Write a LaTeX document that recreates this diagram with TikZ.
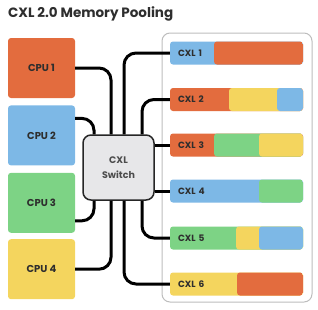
\documentclass[tikz,border=0pt]{standalone}
\usepackage{fontspec}
\setmainfont{Poppins}
\usepackage{xcolor}
\usetikzlibrary{calc}
\usetikzlibrary{positioning}

\definecolor{memorange}{HTML}{E36C3E}
\definecolor{memblue}{HTML}{7DB8E6}
\definecolor{memgreen}{HTML}{7DD385}
\definecolor{memyellow}{HTML}{F4D55E}
\definecolor{switchgray}{HTML}{E7E7E9}
\definecolor{poolgray}{HTML}{BDBDBD}
\definecolor{labelgray}{HTML}{2E2E2E}

% colored part of a memory bar, from an offset to the right end
\newcommand{\cxlseg}[2]{\fill[#2] ([xshift=#1]path picture bounding box.south west) rectangle (path picture bounding box.north east);}

\tikzset{
  cpubox/.style={rounded corners=3pt, minimum width=67pt, minimum height=60pt, inner sep=0pt,
    font=\bfseries\fontsize{10}{12}\selectfont, text=labelgray},
  cxlbar/.style={rounded corners=3pt, minimum width=133pt, minimum height=23pt, inner ysep=0pt,
    inner xsep=8pt, text width=117pt, align=left, font=\bfseries\fontsize{9}{10}\selectfont, text=labelgray},
  switchbox/.style={draw=black!85, line width=1.5pt, fill=switchgray, rounded corners=8pt,
    minimum width=71pt, minimum height=65pt, align=center,
    font=\bfseries\fontsize{9.5}{15}\selectfont, text=black!70},
  wire/.style={line width=3pt, rounded corners=12pt}
}

\begin{document}
\begin{tikzpicture}[x=1pt, y=-1pt]
\useasboundingbox (0,0) rectangle (318,309);

\node[anchor=base west, inner sep=0pt, font=\bfseries\fontsize{13.5}{16}\selectfont, text=labelgray]
  (title) at (8,17) {CXL 2.0 Memory Pooling};

% memory pool
\draw[poolgray, fill=white, line width=1pt, rounded corners=8pt] (162,33) rectangle (312,302);

% CPUs
\node[cpubox, fill=memorange] (cpu1) at (41.5,68) {CPU 1};
\node[cpubox, fill=memblue, below=7pt of cpu1] (cpu2) {CPU 2};
\node[cpubox, fill=memgreen, below=7pt of cpu2] (cpu3) {CPU 3};
\node[cpubox, fill=memyellow, below=6pt of cpu3] (cpu4) {CPU 4};

% switch
\node[switchbox] (sw) at (118.5,167.5) {CXL\\Switch};

% CXL memory devices
\node[cxlbar, fill=memblue, path picture={\cxlseg{44pt}{memorange}}] (cxl1) at (236.5,53) {CXL 1};
\node[cxlbar, fill=memorange, path picture={\cxlseg{59pt}{memyellow}\cxlseg{107pt}{memblue}}] (cxl2) at (236.5,99.5) {CXL 2};
\node[cxlbar, fill=memorange, path picture={\cxlseg{44pt}{memgreen}\cxlseg{89pt}{memyellow}}] (cxl3) at (236.5,145) {CXL 3};
\node[cxlbar, fill=memblue, path picture={\cxlseg{89pt}{memgreen}}] (cxl4) at (236.5,191) {CXL 4};
\node[cxlbar, fill=memgreen, path picture={\cxlseg{66pt}{memyellow}\cxlseg{89pt}{memblue}}] (cxl5) at (236.5,238) {CXL 5};
\node[cxlbar, fill=memyellow, path picture={\cxlseg{67pt}{memorange}}] (cxl6) at (236.5,284) {CXL 6};

% links into the switch
\draw[wire] (cpu1.east) -| ([xshift=-7.5pt]sw.north);
\draw[wire] ([yshift=17pt]cpu2.east) -| ([xshift=-24.5pt]sw.north);
\draw[wire] ([xshift=5.5pt]sw.north) |- (cxl1.west);
\draw[wire] ([xshift=23.5pt]sw.north) |- (cxl2.west);
\draw[wire] (sw.east |- cxl3.west) -- (cxl3.west);
\draw[wire] (sw.east |- cxl4.west) -- (cxl4.west);
\draw[wire] ([xshift=23.5pt]sw.south) |- (cxl5.west);
\draw[wire] ([xshift=5.5pt]sw.south) |- (cxl6.west);
\draw[wire] ([xshift=-24.5pt]sw.south) |- ([yshift=-18pt]cpu3.east);
\draw[wire] ([xshift=-7.5pt]sw.south) |- (cpu4.east);
\end{tikzpicture}
\end{document}
